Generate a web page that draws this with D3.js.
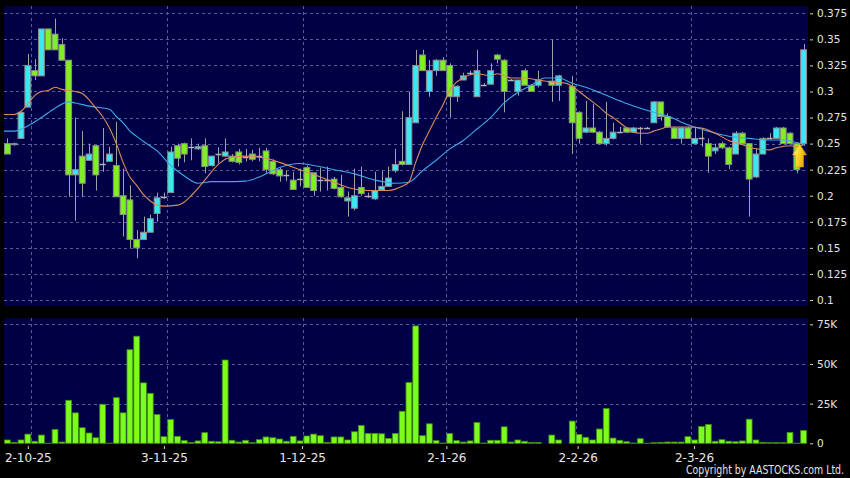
<!DOCTYPE html>
<html>
<head>
<meta charset="utf-8">
<script src="https://cdn.jsdelivr.net/npm/d3@7"></script>
<style>
  body { margin: 0; background: #000; }
  svg { display: block; }
  text { font-family: "DejaVu Sans", sans-serif; fill: #e4e4e4; }
</style>
</head>
<body>
<svg id="chart" width="850" height="478"></svg>
<script>

// daily candles, one entry per trading day (null = no trade)
let opens = [
  .250,.250,.255,.285,.320,.315,.360,.355,.345,.330,
  .220,.238,.234,.248,.230,.233,.229,.200,.196,.158,
  .158,.165,.183,.199,.203,.248,.250,.247,.245,.248,
  .229,.240,.238,.238,.242,.237,.240,.238,.243,.233,
  .225,.220,.215,.216,.227,.222,.215,.215,.216,.208,
  .195,.188,.208,.200,.197,.2055,.209,.224,.233,.230,
  .270,.335,.300,.320,.330,.325,.295,.311,.318,.295,
  .306,.307,.335,.330,.311,.300,.320,.306,.306,null,
  .310,.306,null,.305,.280,.261,.265,.261,.250,.255,
  .261,.265,.261,.265,.265,.270,.290,.276,.265,.255,
  .265,.250,.255,.250,.243,.250,.246,.240,.260,.250,
  .218,.240,.255,.255,.265,.260,.250,.250
]

let closes = [
  .240,.249,.280,.325,.315,.360,.340,.340,.330,.220,
  .225,.212,.240,.220,.230,.240,.199,.182,.158,.150,
  .165,.178,.198,.199,.242,.236,.240,.247,.247,.228,
  .238,.240,.242,.233,.232,.237,.235,.238,.225,.221,
  .219,.220,.206,.216,.208,.205,.215,.215,.207,.199,
  .198,.200,.202,.200,.205,.209,.217,.230,.230,.275,
  .325,.320,.320,.330,.320,.295,.305,.315,.318,.320,
  .306,.320,.331,.300,.311,.311,.306,.300,.311,null,
  .306,.315,null,.270,.255,.265,.261,.250,.255,.261,
  .261,.261,.265,.265,.265,.290,.276,.266,.255,.265,
  .255,.255,.255,.238,.246,.246,.230,.260,.250,.216,
  .240,.255,.255,.265,.250,.250,.225,.340
]

let highs = [
  .255,.251,.280,.336,.331,.360,.360,.370,.351,.330,
  .275,.262,.250,.248,.265,.247,.271,.226,.210,.167,
  .180,.182,.203,.203,.247,.250,.251,.255,.250,.255,
  .238,.2465,.255,.240,.245,.245,.244,.246,.246,.235,
  .227,.224,.223,.226,.229,.222,.227,.228,.218,.220,
  .204,.226,.228,.203,.223,.224,.228,.245,.281,.300,
  .340,.340,.330,.331,.333,.327,.306,.318,.320,.340,
  .308,.327,.336,.331,.312,.311,.322,.307,.320,null,
  .350,.316,null,.315,.281,.291,.288,.262,.290,.270,
  .266,.266,.266,.266,.266,.291,.290,.279,.266,.266,
  .266,.266,.265,.255,.250,.252,.247,.262,.261,.250,
  .2455,.256,.260,.266,.266,.261,.251,.3455
]

let lows = [
  .240,.248,.255,.285,.311,.315,.340,.340,.330,.199,
  .176,.199,.234,.205,.223,.233,.199,.161,.150,.140,
  .158,.165,.175,.197,.203,.228,.232,.234,.244,.2215,
  .228,.231,.237,.232,.230,.233,.233,.233,.222,.220,
  .2135,.214,.206,.209,.208,.200,.204,.205,.206,.198,
  .180,.186,.200,.198,.196,.205,.209,.222,.229,.230,
  .270,.320,.295,.315,.320,.275,.290,.311,.316,.295,
  .305,.307,.327,.280,.310,.296,.306,.300,.304,null,
  .290,.291,null,.240,.250,.260,.260,.249,.248,.254,
  .260,.260,.260,.250,.264,.270,.272,.265,.255,.250,
  .255,.250,.247,.222,.240,.245,.2255,.240,.250,.180,
  .217,.240,.254,.255,.250,.250,.2215,.248
]

// volume in thousands of shares
let volumes = [
  2.1,0.6,2.1,5.8,1.3,5.2,0.1,8.75,0.8,27.1,
  19.2,9.8,6.5,3.5,24.6,0.1,28.75,19.2,59,67.5,
  38.1,31.5,18.1,4.2,15,4.4,1.7,0.6,1.5,6.7,
  1.3,1,52.5,1.9,0.8,1.9,0.4,2.3,4,3.5,
  2.7,1.3,4.4,1.5,4.6,5.8,4.8,0.6,4,4,
  2.1,7.3,11.25,6.25,6.25,6,3.1,6.25,20.2,38.3,
  74,4.8,12.3,1.7,0.2,6.25,1.7,0.8,1.5,13.1,
  0.2,1.9,1.9,10.4,0.8,2.1,1.3,0.6,0.6,0,
  5.2,2.1,0,14,5.6,3.75,2.1,9,21.9,3.3,
  1.9,1,0.2,2.9,0.1,0.4,0.6,0.8,0.8,0.8,
  4.2,2.1,10.6,11.9,1.3,2.3,1.3,1,1.5,15.2,
  2.1,0.6,0.4,0.4,0.4,6.9,0.1,8.1
]

// moving averages: [day, value]
let maShort = [
  [-0.5,.278],[1,.278],[2,.281],[3,.288],[4,.296],[5,.300],[6,.301],[7,.304],[8,.302],
  [10,.300],[11,.298],[12,.292],[13,.284],[14,.276],[15,.265],[16,.250],[17,.232],
  [18,.218],[19,.210],[20,.201],[21,.195],[22,.191],[23,.190],[25,.191],[26,.194],
  [27,.200],[28,.207],[29,.215],[30,.223],[31,.230],[32,.235],[33,.237],[35,.238],
  [38,.236],[40,.232],[43,.225],[46,.218],[48,.213],[50,.208],[53,.205],[56,.205],
  [58,.209],[59,.213],[60,.232],[61,.249],[62,.262],[63,.275],[64,.287],[65,.301],
  [66,.309],[67,.313],[68,.316],[69,.317],[71,.315],[72,.317],[74,.313],[76,.313],
  [78,.311],[80,.309],[82,.308],[83,.305],[84,.300],[85,.295],[86,.290],[87,.285],
  [88,.279],[89,.275],[90,.270],[91,.265],[92,.261],[93,.260],[94,.260],[95,.262],
  [96,.264],[97,.266],[100,.266],[102,.265],[104,.260],[106,.253],[108,.249],
  [110,.245],[112,.244],[113,.246],[115,.248],[116,.247],[117,.249]
]

let maLong = [
  [-0.5,.262],[1,.262],[3,.267],[5,.275],[7,.284],[9,.290],[10,.289],[12,.286],
  [15,.283],[16,.276],[17,.270],[18,.262],[19,.257],[20,.252],[22,.243],[24,.229],
  [26,.219],[28,.212],[30,.2135],[32,.2135],[35,.214],[37,.218],[38,.221],[40,.227],
  [43,.231],[45,.229],[48,.225],[51,.221],[54,.215],[57,.212],[59,.213],[61,.224],
  [63,.234],[65,.245],[67,.253],[69,.264],[71,.275],[73,.289],[75,.299],[77,.306],
  [79,.313],[81,.313],[83,.308],[85,.304],[87,.299],[90,.291],[92,.286],[95,.280],
  [97,.2765],[100,.268],[103,.262],[106,.257],[109,.255],[112,.2535],[114,.2535],
  [116,.251],[117,.249]
]

let priceTicks = [0.1, 0.125, 0.15, 0.175, 0.2, 0.225, 0.25, 0.275, 0.3, 0.325, 0.35, 0.375]
let volTicks = [0, 25, 50, 75]
let dateLabels = ["2-10-25", "3-11-25", "1-12-25", "2-1-26", "2-2-26", "2-3-26"]
let dateTickDays = [3, 23, 43.3, 64.5, 83.8, 100.9]
let gridDays = [3.5, 23.5, 43.5, 64.5, 83.5, 100.5]
let signal = { day: 116.4, price: 0.2497 }

const N = opens.length
const svg = d3.select('#chart')

const x = d3.scaleLinear().domain([-0.5, N - 0.5]).range([4, 807])
const barW = (x(1) - x(0)) * 0.86
const y = d3.scaleLinear().domain([0.1, 0.375]).range([300, 13.3])
const yv = d3.scaleLinear().domain([0, 75]).range([443.3, 324.3])

const UP = '#3ee6f2', DOWN = '#7ff024'

// panels
svg.append('rect').attr('x', 4).attr('y', 6).attr('width', 804).attr('height', 300).attr('fill', '#000046')
svg.append('rect').attr('x', 4).attr('y', 318).attr('width', 804).attr('height', 126).attr('fill', '#000046')

// grid
let grid = svg.append('g').attr('stroke', '#5a5a96').attr('stroke-dasharray', '3,3').attr('stroke-width', 1)
priceTicks.forEach(function (t) {
    grid.append('line').attr('x1', 4).attr('x2', 808).attr('y1', Math.round(y(t)) + 0.5).attr('y2', Math.round(y(t)) + 0.5)
})
volTicks.slice(1).forEach(function (t) {
    grid.append('line').attr('x1', 4).attr('x2', 808).attr('y1', Math.round(yv(t)) + 0.5).attr('y2', Math.round(yv(t)) + 0.5)
})
gridDays.forEach(function (d) {
    let gx = Math.round(x(d)) + 0.5
    grid.append('line').attr('x1', gx).attr('x2', gx).attr('y1', 6).attr('y2', 306)
    grid.append('line').attr('x1', gx).attr('x2', gx).attr('y1', 318).attr('y2', 443)
})

// candles
let days = d3.range(N).filter(i => opens[i] !== null)
let candles = svg.append('g')

candles.selectAll('.wick')
    .data(days)
    .enter().append('line')
    .attr('x1', i => Math.round(x(i)) + 0.5)
    .attr('x2', i => Math.round(x(i)) + 0.5)
    .attr('y1', i => y(highs[i]))
    .attr('y2', i => y(lows[i]))
    .attr('stroke', '#a0a0a8')

candles.selectAll('.body')
    .data(days.filter(i => opens[i] !== closes[i]))
    .enter().append('rect')
    .attr('x', i => x(i) - barW / 2)
    .attr('y', i => y(Math.max(opens[i], closes[i])))
    .attr('width', barW)
    .attr('height', i => Math.max(1, Math.abs(y(opens[i]) - y(closes[i]))))
    .attr('fill', i => closes[i] > opens[i] ? UP : DOWN)
    .attr('stroke', '#8c8c8c')
    .attr('stroke-width', 1)

candles.selectAll('.doji')
    .data(days.filter(i => opens[i] === closes[i]))
    .enter().append('line')
    .attr('x1', i => x(i) - barW / 2)
    .attr('x2', i => x(i) + barW / 2)
    .attr('y1', i => Math.round(y(closes[i])) + 0.5)
    .attr('y2', i => Math.round(y(closes[i])) + 0.5)
    .attr('stroke', '#b0b0b8')
    .attr('stroke-width', 1.5)

// moving averages
let maLine = d3.line().x(d => x(d[0])).y(d => y(d[1])).curve(d3.curveMonotoneX)
svg.append('path').datum(maLong).attr('d', maLine).attr('fill', 'none').attr('stroke', '#44a6e6').attr('stroke-width', 1.1)
svg.append('path').datum(maShort).attr('d', maLine).attr('fill', 'none').attr('stroke', '#dc8c5c').attr('stroke-width', 1.1)

// signal arrow
let defs = svg.append('defs')
let grad = defs.append('linearGradient').attr('id', 'gold').attr('x1', 0).attr('x2', 1).attr('y1', 0).attr('y2', 0.3)
grad.append('stop').attr('offset', '0%').attr('stop-color', '#fff6a0')
grad.append('stop').attr('offset', '50%').attr('stop-color', '#ffd52a')
grad.append('stop').attr('offset', '100%').attr('stop-color', '#e8a400')
let ax = x(signal.day), ay = y(signal.price)
let arrowPts = [[0, 0], [7, 11], [4, 11], [4, 23], [-4, 23], [-4, 11], [-7, 11]]
svg.append('polygon')
    .attr('points', arrowPts.map(p => (ax + p[0]) + ',' + (ay + p[1])).join(' '))
    .attr('fill', 'url(#gold)')
    .attr('stroke', '#d49a14')
    .attr('stroke-width', 0.6)

// volume bars
svg.selectAll('.vol')
    .data(d3.range(N).filter(i => volumes[i] > 0))
    .enter().append('rect')
    .attr('x', i => x(i) - barW / 2)
    .attr('y', i => yv(volumes[i]))
    .attr('width', barW)
    .attr('height', i => yv(0) - yv(volumes[i]))
    .attr('fill', '#7cfc1c')
    .attr('stroke', '#3f8a0e')
    .attr('stroke-width', 0.8)

// axes
let priceAxis = svg.append('g')
    .attr('transform', 'translate(810,0)')
    .call(d3.axisRight(y).tickValues(priceTicks).tickSize(3).tickPadding(4).tickFormat(d => String(+d.toFixed(3))))
priceAxis.select('.domain').remove()
priceAxis.selectAll('line').attr('stroke', '#d0d0d0')
priceAxis.selectAll('text').style('font-size', '10.5px').style('fill', '#e4e4e4')

let volAxis = svg.append('g')
    .attr('transform', 'translate(810,0)')
    .call(d3.axisRight(yv).tickValues(volTicks).tickSize(3).tickPadding(4).tickFormat(d => d === 0 ? '0' : d + 'K'))
volAxis.select('.domain').remove()
volAxis.selectAll('line').attr('stroke', '#d0d0d0')
volAxis.selectAll('text').style('font-size', '10.5px').style('fill', '#e4e4e4')

let dateAxis = svg.append('g')
    .attr('transform', 'translate(0,446)')
    .call(d3.axisBottom(x).tickValues(dateTickDays).tickSize(3).tickPadding(4).tickFormat((d, i) => dateLabels[i]))
dateAxis.select('.domain').remove()
dateAxis.selectAll('line').attr('stroke', '#d0d0d0')
dateAxis.selectAll('text').style('font-size', '12px').style('fill', '#e8e8e8')

svg.append('text')
    .attr('x', 844).attr('y', 473.5)
    .attr('text-anchor', 'end')
    .attr('textLength', 158).attr('lengthAdjust', 'spacingAndGlyphs')
    .style('font-size', '11.5px')
    .text('Copyright by AASTOCKS.com Ltd.')

</script>
</body>
</html>
